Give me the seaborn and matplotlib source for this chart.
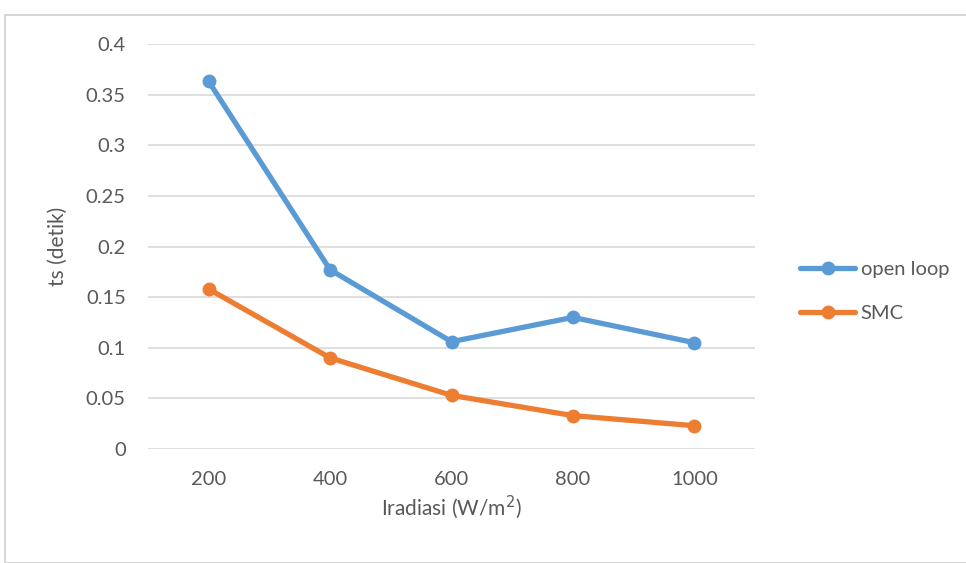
import matplotlib
matplotlib.use("Agg")
import matplotlib.pyplot as plt
import seaborn as sns
import pandas as pd
from matplotlib.patches import Rectangle

# Irradiance levels and settling times
irradiance = ["200", "400", "600", "800", "1000"]
open_loop = [0.363, 0.177, 0.106, 0.130, 0.105]
smc = [0.158, 0.090, 0.053, 0.033, 0.023]
series_names = ["open loop", "SMC"]
y_ticks = [0, 0.05, 0.1, 0.15, 0.2, 0.25, 0.3, 0.35, 0.4]
y_tick_labels = ["0", "0.05", "0.1", "0.15", "0.2", "0.25", "0.3", "0.35", "0.4"]

df = pd.DataFrame({
    "Iradiasi": irradiance * 2,
    "ts": open_loop + smc,
    "series": [series_names[0]] * len(irradiance) + [series_names[1]] * len(irradiance),
})

sns.set_theme(style="white")
plt.rcParams["font.family"] = ["Lato", "DejaVu Sans"]
text_color = "#595959"

fig = plt.figure(figsize=(9.66, 5.63), dpi=100)
ax = fig.add_axes([148 / 966, 1 - 449 / 563, (755 - 148) / 966, (449 - 44) / 563])

palette = {"open loop": "#5B9BD5", "SMC": "#ED7D31"}
sns.lineplot(data=df, x="Iradiasi", y="ts", hue="series", palette=palette,
             marker="o", markersize=10, markeredgewidth=0, linewidth=3.8,
             sort=False, ax=ax)

ax.set_xlim(-0.5, len(irradiance) - 0.5)
ax.set_ylim(0, 0.4)
ax.set_yticks(y_ticks)
ax.set_yticklabels(y_tick_labels)
ax.yaxis.grid(True, color="#D9D9D9", linewidth=1.2)
ax.xaxis.grid(False)
ax.set_axisbelow(True)
for s in ax.spines.values():
    s.set_visible(False)
ax.tick_params(axis="both", length=0, labelsize=14.5, colors=text_color)
ax.tick_params(axis="x", pad=16)
ax.tick_params(axis="y", pad=16)

ax.set_ylabel("ts (detik)", fontsize=15, color=text_color, labelpad=13)
ax.set_xlabel("Iradiasi (W/m$^{2}$)", fontsize=15, color=text_color, labelpad=4)

leg = ax.legend(loc="center left", bbox_to_anchor=(1.045, 0.389), frameon=False,
                fontsize=14.5, handlelength=2.7, handletextpad=0.3,
                labelspacing=1.3, labelcolor=text_color)
for h in leg.legend_handles:
    h.set_linewidth(3.8)
    h.set_markersize(10)

# Light frame around the chart area
fig.patches.append(Rectangle((5 / 966, 0), 1, 1 - 15 / 563, transform=fig.transFigure,
                             fill=False, edgecolor="#D0D0D0", linewidth=1.2))

fig.savefig("out.png", dpi=100, facecolor="white")
